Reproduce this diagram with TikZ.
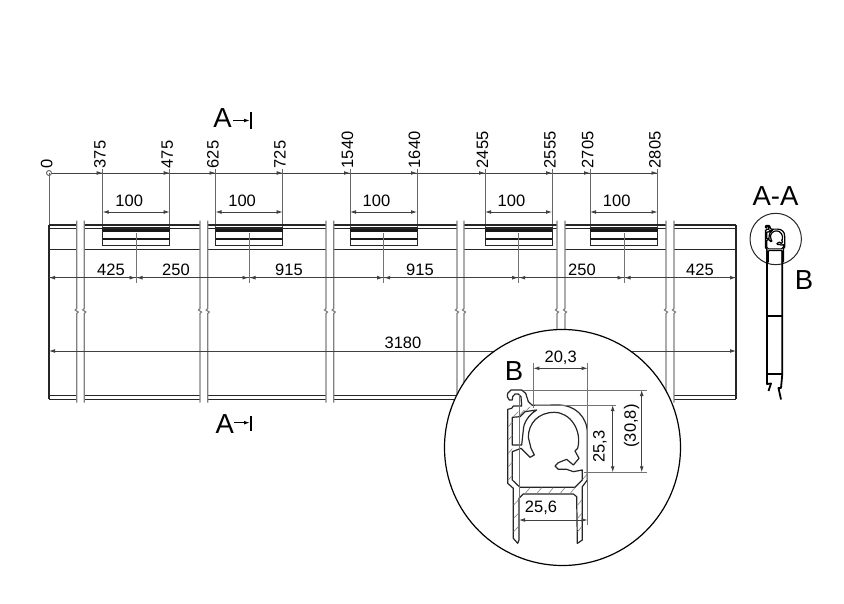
\documentclass[tikz,border=0pt]{standalone}
\usepackage{fontspec}
\setmainfont{Liberation Sans}
\usetikzlibrary{arrows.meta}
\tikzset{
  >={Latex[length=6pt,width=3.8pt]},
  dimline/.style={line width=0.8pt,draw=black!75},
  extline/.style={line width=0.9pt,draw=black!60},
  thinext/.style={line width=0.8pt,draw=black!55},
  breakline/.style={line width=1.2pt,draw=black!50},
  partline/.style={line width=1pt,draw=black!85},
  dimtext/.style={font=\fontsize{16.5}{16.5}\selectfont,inner sep=0pt,text=black},
  bigtext/.style={font=\fontsize{27.5}{27.5}\selectfont,inner sep=0pt,text=black},
  hatchline/.style={line width=0.6pt,draw=black!50},
  profline/.style={line width=1.2pt,draw=black!85,line join=round},
  smallline/.style={line width=1.8pt,draw=black,line join=round},
  sectionbar/.style={line width=2pt,draw=black},
  sectionarrow/.style={line width=1.1pt,draw=black,->},
}
\newcommand{\profileshape}[1]{%
  \draw[#1,fill=white] (38,310) -- (38,88) -- (50,85) -- (55,78) -- (80,78) -- (78,50) -- (70,42) -- (60,42) -- (53,50) -- (52,60) -- (43,60) -- (37,50) -- (38,40) -- (48,30) -- (80,30) -- (92,40) -- (100,65) -- (112,76) -- (190,75) .. controls (240,75) and (277,110) .. (277,160) -- (277,300) -- (262,320) -- (262,480) -- (247,490) -- (245,350) -- (235,342) -- (85,342) -- (72,355) -- (72,480) -- (68,490) -- (55,475) -- (55,325) -- cycle;
  \draw[#1] (52,215) -- (52,300) -- (75,322) -- (240,322) -- (262,300) -- (262,270) -- (235,275) -- (215,268) -- (190,268) -- (180,258) -- (190,248) -- (215,238) -- (235,255) -- (252,235) -- (240,213) -- (248,205) .. controls (262,150) and (225,97) .. (178,97) .. controls (130,97) and (100,130) .. (100,172) -- (108,205) -- (118,225) -- (105,232) -- (78,205) -- cycle;
  \draw[#1] (52,112) -- (75,110) -- (90,95) -- (125,90) .. controls (100,105) and (85,130) .. (85,150) -- (80,195) -- (52,195) -- cycle;
}
\begin{document}
\begin{tikzpicture}[x=1pt,y=-1pt]
\useasboundingbox[fill=white] (0,0) rectangle (844,604);

% extension ticks and baseline dimension
\draw[extline] (49,173) -- (49,225);
\draw[extline] (49,173) circle (2.5);
\draw[dimline] (51.5,173) -- (658,173);
\foreach \x in {102.7,169.7,215.5,282.7,350,417,485,552,590,657.5}{
  \draw[extline] (\x,169) -- (\x,245.7);
  \draw[dimline,->] (\x-7,173) -- (\x,173);
}
\foreach \x/\t in {46.7/0,100/375,167.2/475,213/625,280/725,347.5/1540,414.5/1640,482.5/2455,550/2555,587.7/2705,655/2805}{
  \node[dimtext,rotate=90,anchor=west] (pos\t) at (\x,168.5) {\t};
}
% 100 dimensions
\foreach \a/\b/\n in {102.7/169.7/a,215.5/282.7/b,350/417/c,485/552/d,590/657.5/e}{
  \draw[dimline,<->] (\a,212) -- (\b,212);
  \node[dimtext] (hundred\n) at ({(\a+\b)/2-7},200.5) {100};
}
% part lines
\foreach \a/\b in {49/76.7,84.3/200,207.7/326,333.7/457,464/557,565/666,674/736}{
  \draw[partline,line width=1.3pt] (\a,225) -- (\b,225);
  \draw[partline,line width=0.8pt] (\a,228.5) -- (\b,228.5);
  \draw[partline] (\a,250) -- (\b,250);
  \draw[partline,line width=1.3pt] (\a,395.7) -- (\b,395.7);
  \draw[partline,line width=0.8pt] (\a,399) -- (\b,399);
}
\draw[partline,line width=1.3pt] (49,225) -- (49,399);
\draw[partline,line width=1.3pt] (736,225) -- (736,399);
% windows
\foreach \a/\b in {102.7/169.7,215.5/282.7,350/417,485/552,590/657.5}{
  \draw[partline] (\a,228) rectangle (\b,245.7);
  \draw[line width=2.4pt,draw=black!90] (\a,230.5) -- (\b,230.5);
  \draw[line width=1.8pt,draw=black!90] (\a,239) -- (\b,239);
}
% break lines
\foreach \x in {76.7,84.3,200,207.7,326,333.7,457,464,557,565,666,674}{
  \draw[breakline] (\x,220.7) -- (\x,308.5) -- (\x-1.5,310) -- (\x+1.5,312) -- (\x,313.5) -- (\x,402.7);
}
% centre lines and chain dimension
\draw[dimline] (49,277.7) -- (736,277.7);
\draw[dimline,->] (56,277.7) -- (49,277.7);
\draw[dimline,->] (729,277.7) -- (736,277.7);
\foreach \x in {136,249,383.7,518.7,624}{
  \draw[thinext] (\x,233) -- (\x,282.7);
  \draw[dimline,->] (\x-7,277.7) -- (\x-0.5,277.7);
  \draw[dimline,->] (\x+7,277.7) -- (\x+0.5,277.7);
}
\foreach \x/\t/\n in {111/425/a,176/250/b,289/915/c,420/915/d,582/250/e,700/425/f}{
  \node[dimtext] (chain\n) at (\x,269.5) {\t};
}
% overall dimension
\draw[dimline,<->] (49,351) -- (736,351);
\node[dimtext] (overall) at (403,343) {3180};

% section marks
\node[bigtext] (secAt) at (222.5,118.5) {A};
\coordinate (secAtA) at (233,120.5);
\coordinate (secAtB) at (250,120.5);
\draw[sectionarrow] (secAtA) -- (secAtB);
\draw[sectionbar] (250.5,112) -- (250.5,129);
\node[bigtext] (secAb) at (224.7,424.5) {A};
\coordinate (secAbA) at (234,422.7);
\coordinate (secAbB) at (250,422.7);
\draw[sectionarrow] (secAbA) -- (secAbB);
\draw[sectionbar] (250.5,416) -- (250.5,431);

% section view
\node[bigtext] (aa) at (775.5,196.5) {A-A};
\node[bigtext] (bsmall) at (804,280) {B};
\draw[line width=1pt,draw=black!85] (775.7,239) circle (25.7);
\draw[smallline] (767,249) -- (767,384) -- (771,383.5) -- (768.5,391);
\draw[smallline] (782.3,249) -- (782.3,374) -- (781,388) -- (778.5,388) -- (781,399.5);
\draw[smallline] (767,315.7) -- (782.3,315.7);
\draw[smallline] (767,374) -- (782.3,374);
\begin{scope}[shift={(762.5,223.1)},scale=0.08]
  \profileshape{smallline,line width=1.2pt}
\end{scope}

% detail circle
\draw[line width=1.2pt,draw=black,fill=white] (562.5,447.5) circle (118);
\begin{scope}[shift={(495,380)},scale=1/3]
  \profileshape{profline}
  \foreach \y in {130,170,210,250,290}{\draw[hatchline] (40,\y+10) -- (52,\y-4);}
  \draw[hatchline] (55,110) -- (70,95);
  \draw[hatchline] (72,108) -- (88,90);
  \draw[hatchline] (92,93) -- (106,80);
  \foreach \x in {90,125,160,195,225}{\draw[hatchline] (\x,341) -- (\x+15,323);}
  \foreach \y in {365,405,445}{
    \draw[hatchline] (56,\y+10) -- (71,\y-6);
    \draw[hatchline] (248,\y+10) -- (261,\y-6);
  }
  \draw[hatchline] (263,298) -- (276,283);
\end{scope}

% detail dimensions
\draw[thinext] (533.3,363) -- (533.3,408);
\draw[thinext] (587.7,363) -- (587.7,525);
\draw[dimline,<->] (533.3,368.3) -- (587.7,368.3);
\node[dimtext] (dtwenty) at (560.7,357.7) {20,3};
\draw[thinext] (535,405) -- (616,405);
\draw[thinext] (583.5,472.3) -- (647,472.3);
\draw[thinext] (523,390) -- (647,390);
\draw[dimline,<->] (612.7,405) -- (612.7,472.3);
\draw[dimline,<->] (641.7,390) -- (641.7,472.3);
\node[dimtext,rotate=90] (dtwentyfive) at (600,446.7) {25,3};
\node[dimtext,rotate=90] (dthirty) at (631.7,426) {(30,8)};
\draw[thinext] (519,395) -- (519,525);
\draw[dimline,<->] (519,520) -- (587.7,520);
\node[dimtext] (dfive) at (541,508) {25,6};
\node[bigtext] (bbig) at (514,370.7) {B};
\end{tikzpicture}
\end{document}
